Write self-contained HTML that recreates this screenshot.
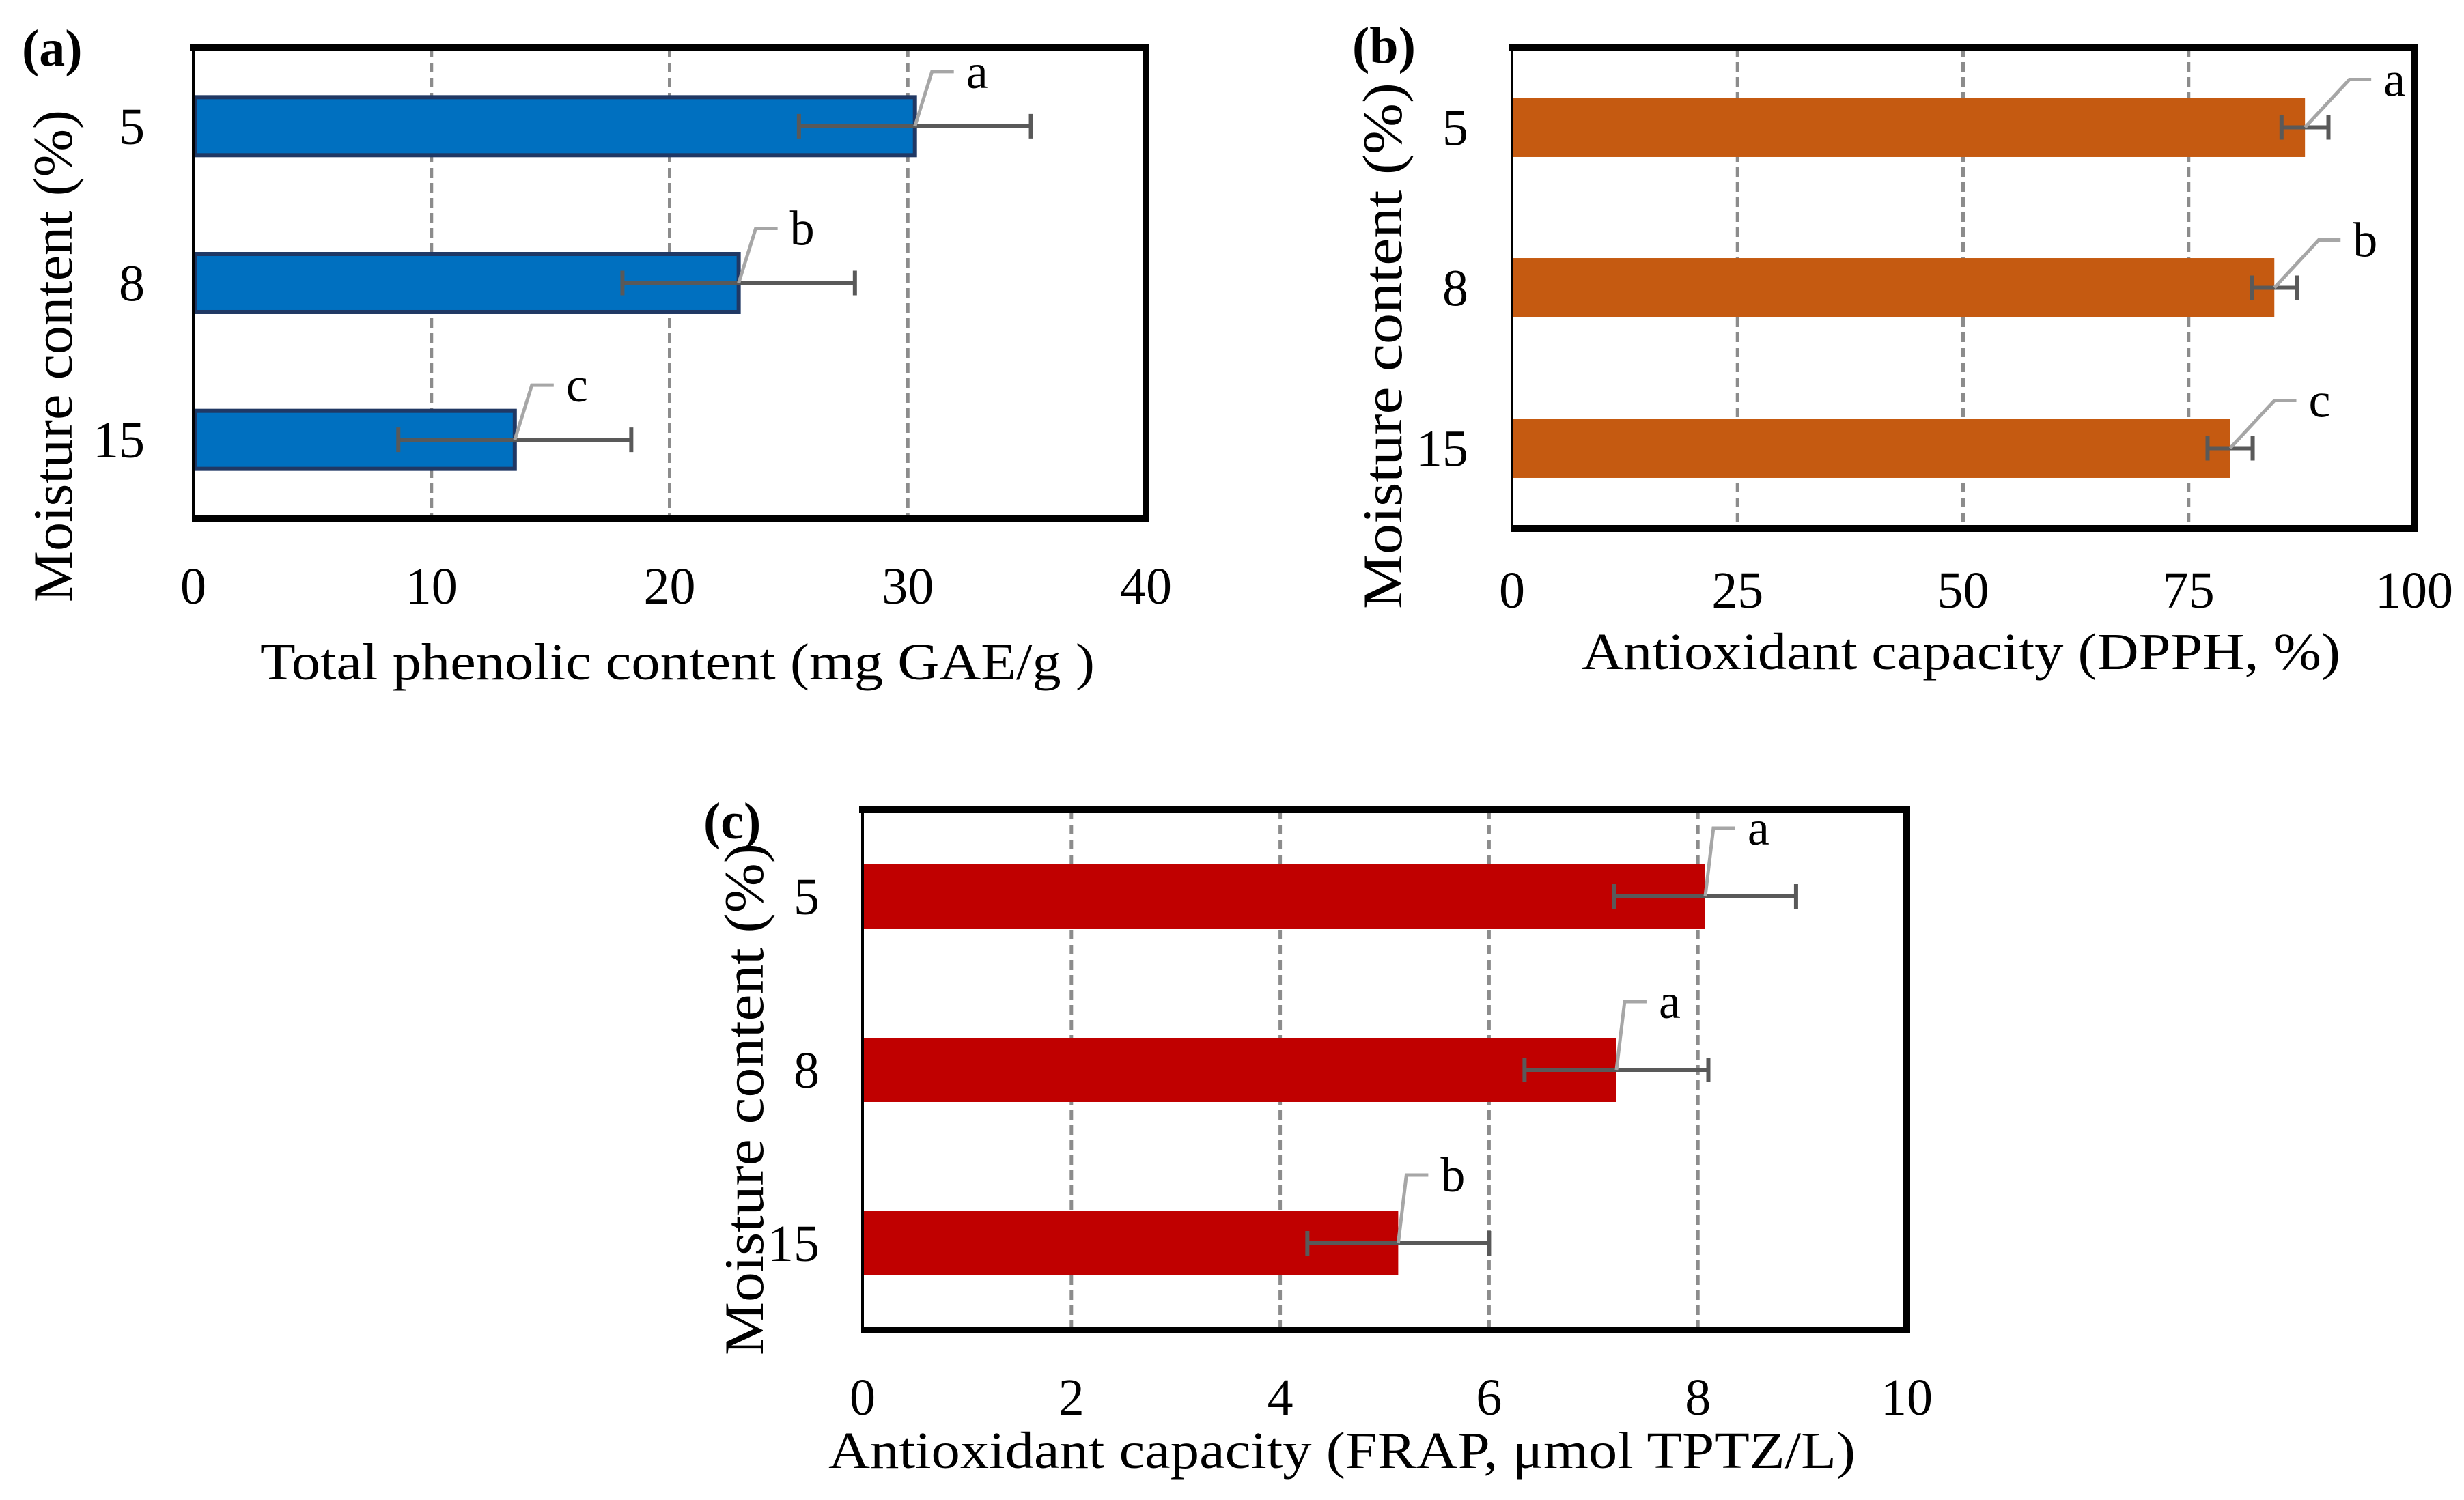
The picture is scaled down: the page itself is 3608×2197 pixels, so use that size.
<!DOCTYPE html>
<html><head><meta charset="utf-8">
<style>
html,body{margin:0;padding:0;background:#fff;}
svg{display:block;}
text{font-family:"Liberation Serif",serif;fill:#000;}
</style></head>
<body>
<svg id="chart" width="3608" height="2197" viewBox="0 0 3608 2197" xmlns="http://www.w3.org/2000/svg">
<rect x="0" y="0" width="3608" height="2197" fill="#fff"/>
</svg>
<script>
// Shared categories
const categories = ["5", "8", "15"];
// Panel (a) Total phenolic content
const phenolicValues = [30.3, 22.9, 13.5];
const phenolicErrors = [4.87, 4.88, 4.89];
const phenolicLetters = ["a", "b", "c"];
const phenolicTicks = [0, 10, 20, 30, 40];
// Panel (b) DPPH
const dpphValues = [87.9, 84.5, 79.6];
const dpphErrors = [2.6, 2.5, 2.5];
const dpphLetters = ["a", "b", "c"];
const dpphTicks = [0, 25, 50, 75, 100];
// Panel (c) FRAP
const frapValues = [8.07, 7.22, 5.13];
const frapErrors = [0.87, 0.88, 0.87];
const frapLetters = ["a", "a", "b"];
const frapTicks = [0, 2, 4, 6, 8, 10];

const NS = "http://www.w3.org/2000/svg";
const svg = document.getElementById("chart");
function mk(tag, attrs, parent) {
  const e = document.createElementNS(NS, tag);
  for (const k in attrs) e.setAttribute(k, attrs[k]);
  (parent || svg).appendChild(e);
  return e;
}

function panel(cfg) {
  const g = mk("g", {});
  
  
  const L = cfg.left, R = cfg.right, T = cfg.top, B = cfg.bottom;
  const max = cfg.ticks[cfg.ticks.length - 1];
  const xs = v => L + (v - cfg.ticks[0]) / (max - cfg.ticks[0]) * (R - L);
  const band = (B - T) / cfg.cats.length;
  const yc = i => T + band * (i + 0.5);

  cfg.ticks.forEach((t, i) => {
    if (i === 0 || i === cfg.ticks.length - 1) return;
    const gl = mk("line", {x1: xs(t), x2: xs(t), y1: T, y2: B, stroke: "#8c8c8c", "stroke-width": 5, "stroke-dasharray": "14 8"}, g);
    
    
  });
  const bh = band * 0.37;
  cfg.values.forEach((v, i) => {
    const r = mk("rect", {x: L + 2, y: yc(i) - bh / 2, width: xs(v) - L - 2, height: bh, fill: cfg.color}, g);
    if (cfg.stroke) { r.setAttribute("stroke", cfg.stroke); r.setAttribute("stroke-width", 6); }
    
    
  });
  cfg.values.forEach((v, i) => {
    const e = cfg.errors[i], y = yc(i);
    const eg = mk("g", {stroke: "#595959", "stroke-width": 6}, g);
    
    
    mk("line", {x1: xs(v - e), x2: xs(v + e), y1: y, y2: y}, eg);
    mk("line", {x1: xs(v - e), x2: xs(v - e), y1: y - 18, y2: y + 18}, eg);
    mk("line", {x1: xs(v + e), x2: xs(v + e), y1: y - 18, y2: y + 18}, eg);
  });
  cfg.values.forEach((v, i) => {
    const x0 = xs(v), y0 = yc(i);
    const kx = x0 + cfg.leadDx, ky = y0 - cfg.leadDy;
    const pl = mk("polyline", {points: `${x0},${y0} ${kx},${ky} ${kx + 32},${ky}`, fill: "none", stroke: "#a6a6a6", "stroke-width": 5}, g);
    
    
    const t = mk("text", {x: kx + 50, y: ky + 24, "font-size": 72}, g);
    t.textContent = cfg.letters[i];
    
    
  });
  const fr = mk("g", {}, g);
  
  
  mk("line", {x1: L - 5, x2: R + 5, y1: T, y2: T, stroke: "#000", "stroke-width": 10}, fr);
  mk("line", {x1: R, x2: R, y1: T, y2: B, stroke: "#000", "stroke-width": 10}, fr);
  mk("line", {x1: L - 2, x2: R + 5, y1: B, y2: B, stroke: "#000", "stroke-width": 10}, fr);
  mk("line", {x1: L, x2: L, y1: T, y2: B, stroke: "#000", "stroke-width": 4}, fr);
  cfg.ticks.forEach(t => {
    const tx = mk("text", {x: xs(t), y: cfg.tickY, "font-size": 76, "text-anchor": "middle"}, g);
    tx.textContent = t;
    
    
  });
  cfg.cats.forEach((c, i) => {
    const ty = mk("text", {x: cfg.yTickX, y: yc(i) + 26, "font-size": 76, "text-anchor": "end"}, g);
    ty.textContent = c;
    
    
  });
  const xt = mk("text", {x: cfg.xTitle[1], y: cfg.xTitle[2], "font-size": 76, textLength: cfg.xTitle[3], lengthAdjust: "spacingAndGlyphs"}, g);
  xt.textContent = cfg.xTitle[0];
  
  
  const yt = mk("text", {x: 0, y: 0, "font-size": 82, textLength: cfg.yTitle[2] - cfg.yTitle[1], lengthAdjust: "spacingAndGlyphs", transform: `translate(${cfg.yTitle[0]},${cfg.yTitle[2]}) rotate(-90)`}, g);
  yt.textContent = "Moisture content (%)";
  
  
  const pl = mk("text", {x: cfg.tag[1], y: cfg.tag[2], "font-size": 76, "font-weight": "bold"}, g);
  pl.textContent = cfg.tag[0];
  
  
}

panel({name: "panel-a-phenolic", left: 283, right: 1678, top: 70, bottom: 759,
  cats: categories, values: phenolicValues, errors: phenolicErrors, letters: phenolicLetters, ticks: phenolicTicks,
  color: "#0070c0", stroke: "#203864", leadDx: 25, leadDy: 80,
  tickY: 884, yTickX: 212, xTitle: ["Total phenolic content (mg GAE/g )", 381, 995, 1222],
  yTitle: [105, 161, 882], tag: ["(a)", 32, 96]});

panel({name: "panel-b-dpph", left: 2214, right: 3535, top: 69, bottom: 774,
  cats: categories, values: dpphValues, errors: dpphErrors, letters: dpphLetters, ticks: dpphTicks,
  color: "#c55a11", stroke: null, leadDx: 65, leadDy: 70,
  tickY: 890, yTickX: 2150, xTitle: ["Antioxidant capacity (DPPH, %)", 2316, 980, 1111],
  yTitle: [2052, 121, 892], tag: ["(b)", 1980, 92]});

panel({name: "panel-c-frap", left: 1263, right: 2792, top: 1186, bottom: 1948,
  cats: categories, values: frapValues, errors: frapErrors, letters: frapLetters, ticks: frapTicks,
  color: "#c00000", stroke: null, leadDx: 12, leadDy: 100,
  tickY: 2072, yTickX: 1200, xTitle: ["Antioxidant capacity (FRAP, μmol TPTZ/L)", 1213, 2150, 1504],
  yTitle: [1117, 1235, 1985], tag: ["(c)", 1030, 1228]});
</script>
</body></html>
